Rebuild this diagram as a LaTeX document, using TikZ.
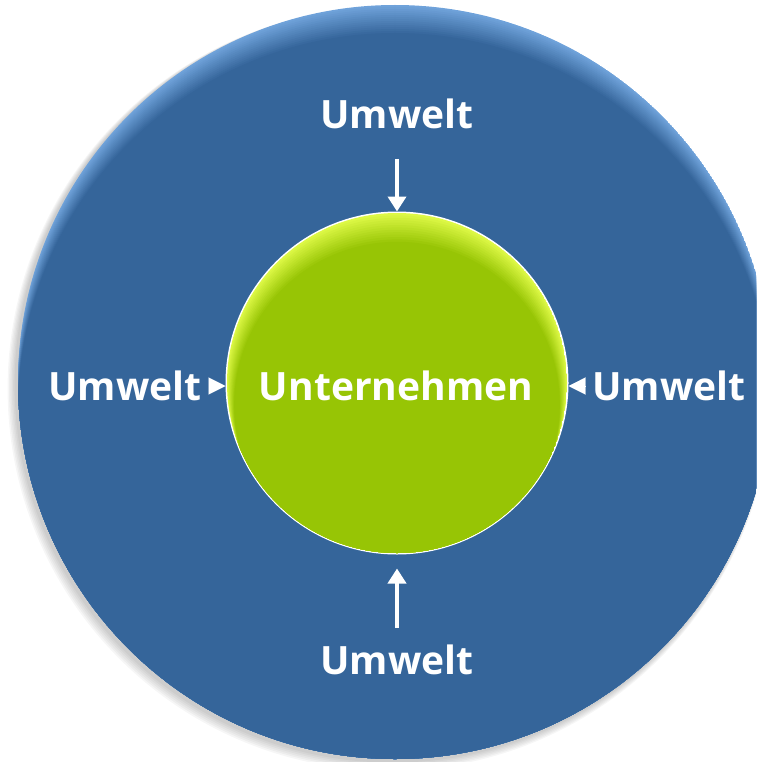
\documentclass[tikz,border=0pt]{standalone}
\usepackage{fontspec}
\setmainfont{Open Sans}
\usetikzlibrary{arrows.meta}
\definecolor{bluemain}{HTML}{35659A}
\definecolor{bluelight}{HTML}{6FA2DA}
\definecolor{greenmain}{HTML}{97C505}
\definecolor{greenlight}{HTML}{DDF845}
\tikzset{
  lbl/.style={text=white, font=\fontsize{39}{47}\selectfont\bfseries, inner sep=0pt, anchor=base},
  varrow/.style={white, line width=4pt, -{Triangle[width=18pt,length=15pt]}},
  harrow/.style={white, line width=0.1pt, -{Triangle[width=17pt,length=17pt]}},
}
\begin{document}
\begin{tikzpicture}[x=1pt,y=-1pt]
\useasboundingbox (0,0) rectangle (756,762);
\clip (0,0) rectangle (756,762);
% soft shadow
\foreach \i in {1,...,6}{
  \fill[black, opacity=0.035] (393-\i*0.6,384+\i*0.8) circle (377+\i*0.8);
}
% blue disc with bevelled top
\begin{scope}
\clip (395,382) circle (377);
\fill[bluelight] (395,382) circle (377);
\foreach \i in {1,...,14}{
  \pgfmathsetmacro{\pc}{\i*100/14}
  \fill[bluemain!\pc!bluelight] (395,382+\i*2) circle (377);
}
\end{scope}
% green disc
\fill[white] (397,383) circle (171.5);
\begin{scope}
\clip (397,383) circle (170);
\fill[greenlight] (397,383) circle (170);
\foreach \i in {1,...,12}{
  \pgfmathsetmacro{\pc}{\i*100/12}
  \fill[greenmain!\pc!greenlight] (397,383+\i*1.8) circle (170-\i*0.6);
}
\end{scope}
\node[circle, minimum size=343pt, inner sep=0pt, outer sep=0pt] (core) at (397,383) {};
\node[lbl] (center) at (396,400) {Unternehmen};
% labels
\node[lbl] (ltop) at (397,129) {Umwelt};
\node[lbl] (lbot) at (397,674) {Umwelt};
\node[lbl] (lleft) at (125,400) {Umwelt};
\node[lbl] (lright) at (669,400) {Umwelt};
% arrows
\coordinate (atop) at (397,159);
\coordinate (abot) at (397,628);
\coordinate (aleft) at (209,386);
\coordinate (aright) at (585,386);
\draw[varrow] (atop) -- (core.north);
\draw[varrow] (abot) -- ([yshift=-14pt]core.south);
\draw[harrow] (aleft) -- (core.west |- aleft);
\draw[harrow] (aright) -- (core.east |- aright);
\end{tikzpicture}
\end{document}
